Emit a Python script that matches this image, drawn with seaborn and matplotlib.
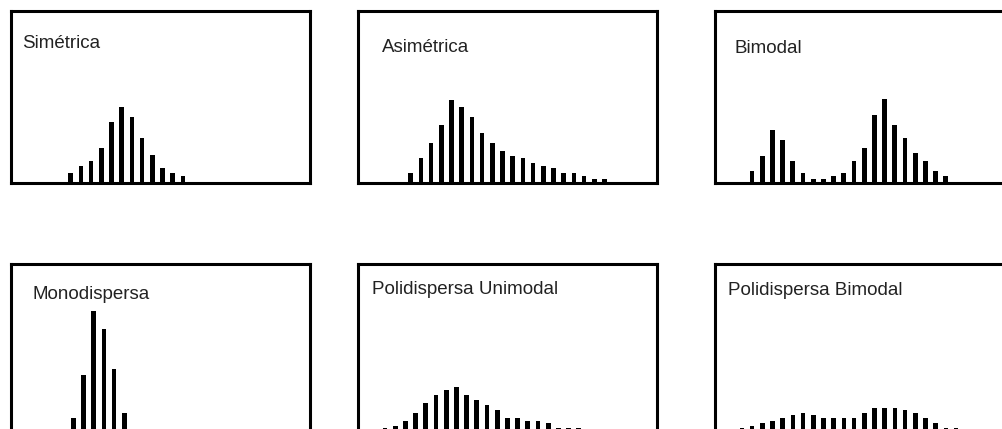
import pandas as pd
import matplotlib
matplotlib.use("Agg")
import matplotlib.pyplot as plt
import seaborn as sns

# bar heights (pixel-ish units, panel height = 171)
simetrica = [9.3, 17, 22, 34.7, 60, 75.3, 65.3, 45, 27.3, 14.3, 9.3, 6.7]
asimetrica = [9.3, 24.3, 39.3, 57.3, 82.7, 75.3, 65.3, 50, 39.3, 32, 27, 24.3,
              19.3, 17, 14.3, 9.3, 9.3, 6.7, 4, 4]
bimodal = [12, 27, 52.7, 42.3, 22, 9.3, 4, 4, 6.7, 9.3, 22, 34.7, 67.7, 83.3,
           57.3, 45, 29.7, 22, 12, 6.7]
monodispersa = [16.7, 60, 123.3, 105.7, 65.3, 21.7]
poli_unimodal = [6.7, 9, 14, 21.7, 31.7, 39.7, 44.7, 47.3, 39.7, 34.7, 29.7, 24.7,
                 16.7, 16.7, 14, 14, 11.7, 6.7, 6.7, 6.7]
poli_bimodal = [3, 6.7, 9, 11.7, 14, 16.7, 19.3, 21.7, 19.3, 16.7, 16.7, 16.7, 16.7,
                21.7, 26.7, 26.7, 26.7, 24.3, 21.7, 16.7, 11.7, 6.7, 6.7]

titles = ["Simétrica", "Asimétrica", "Bimodal",
          "Monodispersa", "Polidispersa Unimodal", "Polidispersa Bimodal"]
series = [simetrica, asimetrica, bimodal, monodispersa, poli_unimodal, poli_bimodal]

sns.set_style("white")
plt.rcParams['font.family'] = ['Liberation Sans', 'DejaVu Sans']

W, H = 1002, 429
fig = plt.figure(figsize=(W / 100, H / 100), dpi=100)

# panel boxes in pixels: left, top
boxes = [(11, 11.5), (358, 11.5), (715, 11.5),
         (10.7, 263.5), (358, 263.5), (715, 263.5)]
pw, ph = 299, 171
step = 10.2  # pixels between bars
first_bar = [59.7, 52.7, 37, 62.6, 27, 16.7]  # px from panel left to first bar
label_pos = [(10.7, 0.788), (24.3, 0.761), (19.7, 0.760),
             (21.6, 0.792), (14.3, 0.82), (12.7, 0.816)]

for i, (vals, title) in enumerate(zip(series, titles)):
    left, top = boxes[i]
    ax = fig.add_axes([left / W, 1 - (top + ph) / H, pw / W, ph / H])
    df = pd.DataFrame({"bin": range(len(vals)), "h": vals})
    sns.barplot(data=df, x="bin", y="h", color="black", saturation=1,
                width=0.46, linewidth=0, ax=ax)
    x0 = -first_bar[i] / step
    ax.set_xlim(x0, x0 + pw / step)
    ax.set_ylim(0, ph)
    ax.set_xticks([])
    ax.set_yticks([])
    ax.set_xlabel("")
    ax.set_ylabel("")
    for s in ax.spines.values():
        s.set_visible(True)
        s.set_linewidth(2.2)
        s.set_color("black")
    tx, ty = label_pos[i]
    ax.text(tx / pw, ty, title, transform=ax.transAxes, fontsize=13.5,
            color="#222222", ha="left", va="baseline")

plt.savefig("out.png", dpi=100)
